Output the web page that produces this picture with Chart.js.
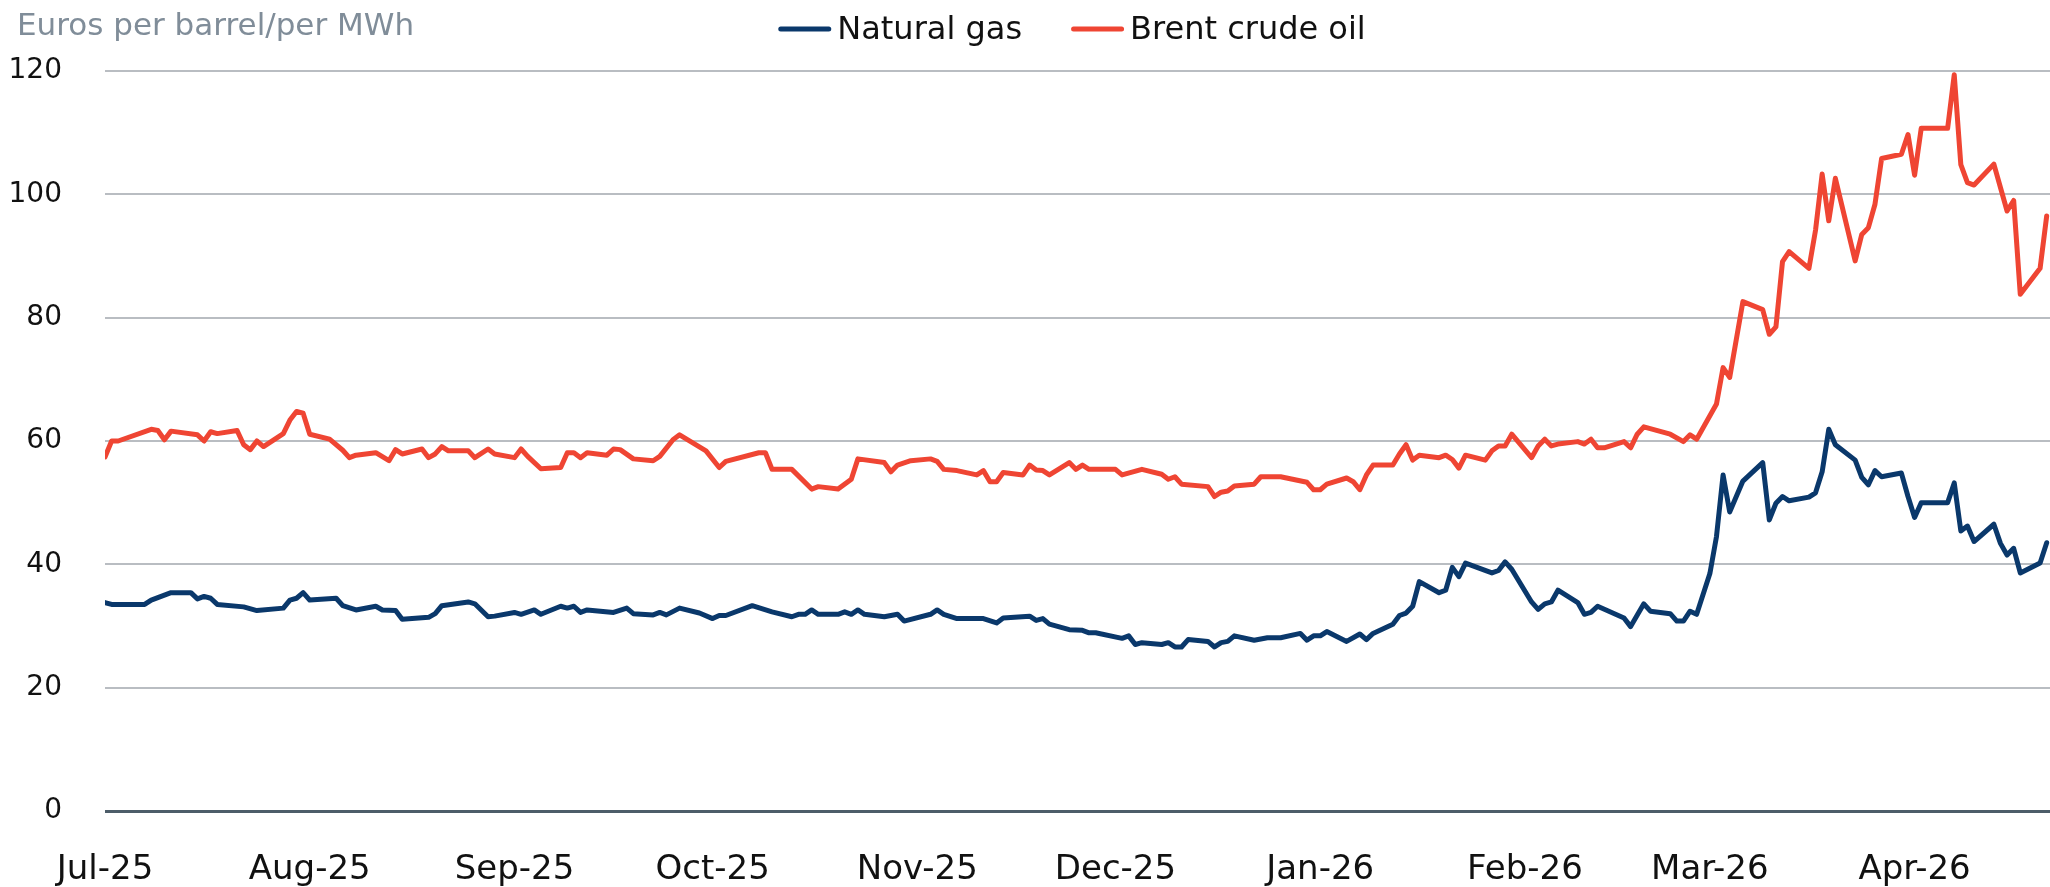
<!DOCTYPE html>
<html>
<head>
<meta charset="utf-8">
<title>Natural gas and Brent crude oil</title>
<script src="https://cdn.jsdelivr.net/npm/chart.js@4.4.1/dist/chart.umd.min.js"></script>
<style>
    html, body { margin: 0; padding: 0; background: #fff; }
    #wrap { width: 2050px; height: 887px; position: relative; }
</style>
</head>
<body>
<div id="wrap"><canvas id="precos"></canvas></div>
<script>
// days counted from 1 Jul 2025
const monthDays = [0, 31, 62, 92, 123, 153, 184, 215, 243, 274];
const monthLabels = ['Jul-25', 'Aug-25', 'Sep-25', 'Oct-25', 'Nov-25', 'Dec-25', 'Jan-26', 'Feb-26', 'Mar-26', 'Apr-26'];
const yTicks = [0, 20, 40, 60, 80, 100, 120];

const gasDays = [
    0, 1, 6, 7, 8, 10, 13, 14, 15, 16,
    17, 21, 23, 27, 28, 29, 30, 31, 35, 36,
    38, 41, 42, 44, 45, 49, 50, 51, 55, 56,
    58, 59, 62, 63, 65, 66, 69, 70, 71, 72,
    73, 77, 79, 80, 83, 84, 85, 87, 90, 92,
    93, 94, 98, 101, 104, 105, 106, 107, 108, 111,
    112, 113, 114, 115, 118, 120, 121, 125, 126, 127,
    129, 133, 135, 136, 140, 141, 142, 143, 146, 148,
    149, 150, 154, 155, 156, 157, 160, 161, 162, 163,
    164, 167, 168, 169, 170, 171, 174, 176, 178, 181,
    182, 183, 184, 185, 188, 190, 191, 192, 195, 196,
    197, 198, 199, 202, 203, 204, 205, 206, 210, 211,
    212, 213, 216, 217, 218, 219, 220, 223, 224, 225,
    226, 230, 231, 233, 234, 237, 238, 239, 240, 241,
    243, 244, 245, 246, 248, 251, 252, 253, 254, 255,
    258, 259, 260, 261, 262, 265, 266, 267, 268, 269,
    272, 273, 274, 275, 279, 280, 281, 282, 283, 286,
    287, 288, 289, 290, 293, 294
];
const gasValues = [
    33.8, 33.5, 33.5, 34.2, 34.6, 35.4, 35.4, 34.4, 34.8, 34.5,
    33.5, 33.1, 32.5, 32.9, 34.2, 34.5, 35.4, 34.2, 34.5, 33.3,
    32.6, 33.2, 32.6, 32.5, 31.1, 31.4, 32.0, 33.3, 33.9, 33.6,
    31.5, 31.6, 32.2, 31.9, 32.6, 31.9, 33.2, 32.9, 33.2, 32.2,
    32.6, 32.2, 32.9, 32.0, 31.8, 32.2, 31.8, 32.9, 32.1, 31.2,
    31.7, 31.7, 33.3, 32.3, 31.5, 31.9, 31.9, 32.6, 31.9, 31.9,
    32.3, 31.9, 32.6, 31.9, 31.5, 31.9, 30.8, 31.9, 32.6, 31.9,
    31.2, 31.2, 30.5, 31.3, 31.6, 30.9, 31.2, 30.3, 29.4, 29.3,
    28.9, 28.9, 28.0, 28.4, 27.0, 27.3, 27.0, 27.3, 26.6, 26.6,
    27.8, 27.5, 26.6, 27.3, 27.5, 28.4, 27.7, 28.1, 28.1, 28.8,
    27.7, 28.4, 28.4, 29.1, 27.5, 28.7, 27.8, 28.8, 30.3, 31.7,
    32.1, 33.2, 37.2, 35.4, 35.8, 39.5, 38.0, 40.2, 38.6, 39.0,
    40.4, 39.2, 33.9, 32.7, 33.6, 33.9, 35.8, 33.8, 31.9, 32.2,
    33.2, 31.3, 29.9, 33.6, 32.4, 32.0, 30.8, 30.8, 32.4, 31.9,
    38.5, 44.5, 54.5, 48.5, 53.5, 56.5, 47.2, 49.9, 51.0, 50.3,
    50.9, 51.6, 55.0, 61.9, 59.4, 56.9, 54.1, 52.9, 55.2, 54.2,
    54.8, 51.0, 47.6, 50.0, 50.0, 53.2, 45.4, 46.2, 43.7, 46.5,
    43.4, 41.5, 42.6, 38.6, 40.2, 43.5
];

const oilDays = [
    0, 1, 2, 7, 8, 9, 10, 14, 15, 16,
    17, 20, 21, 22, 23, 24, 27, 28, 29, 30,
    31, 34, 36, 37, 38, 41, 43, 44, 45, 48,
    49, 50, 51, 52, 55, 56, 58, 59, 62, 63,
    64, 66, 69, 70, 71, 72, 73, 76, 77, 78,
    80, 83, 84, 86, 87, 91, 93, 94, 99, 100,
    101, 104, 107, 108, 111, 113, 114, 118, 119, 120,
    122, 125, 126, 127, 129, 132, 133, 134, 135, 136,
    139, 140, 141, 142, 143, 146, 147, 148, 149, 153,
    154, 157, 160, 161, 162, 163, 167, 168, 169, 170,
    171, 174, 175, 178, 182, 183, 184, 185, 188, 189,
    190, 191, 192, 195, 196, 197, 198, 199, 202, 203,
    204, 205, 206, 209, 210, 211, 212, 213, 216, 217,
    218, 219, 220, 223, 224, 225, 226, 227, 230, 231,
    232, 233, 237, 239, 240, 241, 244, 245, 246, 248,
    251, 252, 253, 254, 255, 258, 259, 260, 261, 262,
    265, 266, 267, 268, 269, 272, 273, 274, 275, 279,
    280, 281, 282, 283, 286, 288, 289, 290, 293, 294
];
const oilValues = [
    57.4, 60.0, 60.0, 61.9, 61.7, 60.2, 61.6, 61.0, 60.0, 61.5,
    61.2, 61.7, 59.4, 58.6, 60.0, 59.1, 61.2, 63.4, 64.8, 64.5,
    61.1, 60.3, 58.5, 57.3, 57.7, 58.1, 56.8, 58.6, 57.9, 58.7,
    57.3, 57.9, 59.1, 58.4, 58.4, 57.3, 58.7, 57.9, 57.3, 58.7,
    57.5, 55.5, 55.7, 58.1, 58.1, 57.3, 58.1, 57.7, 58.7, 58.6,
    57.1, 56.8, 57.5, 60.2, 61.0, 58.4, 55.7, 56.7, 58.1, 58.1,
    55.4, 55.4, 52.2, 52.6, 52.2, 53.8, 57.1, 56.5, 55.0, 56.1,
    56.8, 57.1, 56.7, 55.4, 55.2, 54.5, 55.2, 53.4, 53.4, 54.9,
    54.5, 56.1, 55.3, 55.2, 54.5, 56.5, 55.4, 56.1, 55.4, 55.4,
    54.5, 55.4, 54.6, 53.8, 54.2, 53.0, 52.6, 51.0, 51.7, 51.9,
    52.7, 53.0, 54.2, 54.2, 53.3, 52.1, 52.1, 53.0, 54.0, 53.4,
    52.1, 54.5, 56.1, 56.1, 57.9, 59.4, 56.9, 57.7, 57.3, 57.7,
    57.0, 55.6, 57.7, 56.9, 58.4, 59.2, 59.2, 61.1, 57.3, 59.2,
    60.3, 59.2, 59.5, 59.9, 59.5, 60.3, 58.9, 58.9, 59.9, 58.9,
    61.1, 62.3, 61.1, 59.9, 61.0, 60.3, 66.0, 71.9, 70.3, 82.6,
    81.3, 77.3, 78.5, 89.1, 90.7, 88.0, 94.2, 103.3, 95.7, 102.6,
    89.2, 93.5, 94.6, 98.4, 105.8, 106.5, 109.7, 103.1, 110.7, 110.7,
    119.4, 104.8, 101.9, 101.5, 104.9, 97.3, 99.0, 83.8, 88.0, 96.5
];

const yTitle = 'Euros per barrel/per MWh';
const fontName = '"DejaVu Sans", sans-serif';

function pontos(days, values) {
    return days.map((d, i) => ({ x: d, y: values[i] }));
}

// axis title top left + legend line, drawn on the canvas
const cabecalho = {
    id: 'cabecalho',
    afterDraw(chart) {
        const ctx = chart.ctx;
        ctx.save();
        ctx.textBaseline = 'alphabetic';
        ctx.font = '31px ' + fontName;
        ctx.fillStyle = '#808d99';
        ctx.fillText(yTitle, 17, 35);

        ctx.font = '32px ' + fontName;
        const itens = chart.data.datasets.map(ds => ({
            text: ds.label,
            color: ds.borderColor,
            w: ctx.measureText(ds.label).width
        }));
        const lineLen = 53, gap = 6, itemGap = 49;
        let total = itemGap * (itens.length - 1);
        itens.forEach(it => { total += lineLen + gap + it.w; });
        let x = 1072 - total / 2;
        itens.forEach(it => {
            ctx.strokeStyle = it.color;
            ctx.lineWidth = 5;
            ctx.lineCap = 'round';
            ctx.beginPath();
            ctx.moveTo(x + 2.5, 29);
            ctx.lineTo(x + lineLen - 2.5, 29);
            ctx.stroke();
            ctx.fillStyle = '#111111';
            ctx.fillText(it.text, x + lineLen + gap, 39);
            x += lineLen + gap + it.w + itemGap;
        });
        ctx.restore();
    }
};

window.onload = function () {
    const grfc = document.getElementById('precos');

    new Chart(grfc, {
        type: 'line',
        data: {
            datasets: [{
                label: 'Natural gas',
                data: pontos(gasDays, gasValues),
                borderColor: '#0a386b',
                borderWidth: 5,
                borderJoinStyle: 'round',
                borderCapStyle: 'round',
                pointRadius: 0,
                tension: 0
            }, {
                label: 'Brent crude oil',
                data: pontos(oilDays, oilValues),
                borderColor: '#ef4533',
                borderWidth: 5,
                borderJoinStyle: 'round',
                borderCapStyle: 'round',
                pointRadius: 0,
                tension: 0
            }]
        },
        options: {
            responsive: true,
            maintainAspectRatio: false,
            animation: false,
            layout: {
                padding: { top: 71, left: 0, right: 0, bottom: 0 }
            },
            plugins: {
                legend: { display: false },
                tooltip: { enabled: false }
            },
            scales: {
                x: {
                    type: 'linear',
                    min: 0,
                    max: 294.5,
                    grid: { display: false },
                    border: { display: false },
                    afterBuildTicks: function (scale) {
                        scale.ticks = monthDays.map(d => ({ value: d }));
                    },
                    afterFit: function (scale) {
                        scale.height = 76;
                    },
                    ticks: {
                        autoSkip: false,
                        maxRotation: 0,
                        padding: 31,
                        color: '#111111',
                        font: { family: fontName, size: 34 },
                        callback: function (value) {
                            return monthLabels[monthDays.indexOf(value)];
                        }
                    }
                },
                y: {
                    min: 0,
                    max: 120,
                    afterBuildTicks: function (scale) {
                        scale.ticks = yTicks.map(v => ({ value: v }));
                    },
                    afterFit: function (scale) {
                        scale.width = 105;
                    },
                    border: { display: false },
                    grid: {
                        drawTicks: false,
                        color: c => c.tick.value === 0 ? '#4d5d69' : '#b9bdc2',
                        lineWidth: c => c.tick.value === 0 ? 3 : 2
                    },
                    ticks: {
                        padding: 43,
                        color: '#111111',
                        font: { family: fontName, size: 28 }
                    }
                }
            }
        },
        plugins: [cabecalho]
    });
}
</script>
</body>
</html>
